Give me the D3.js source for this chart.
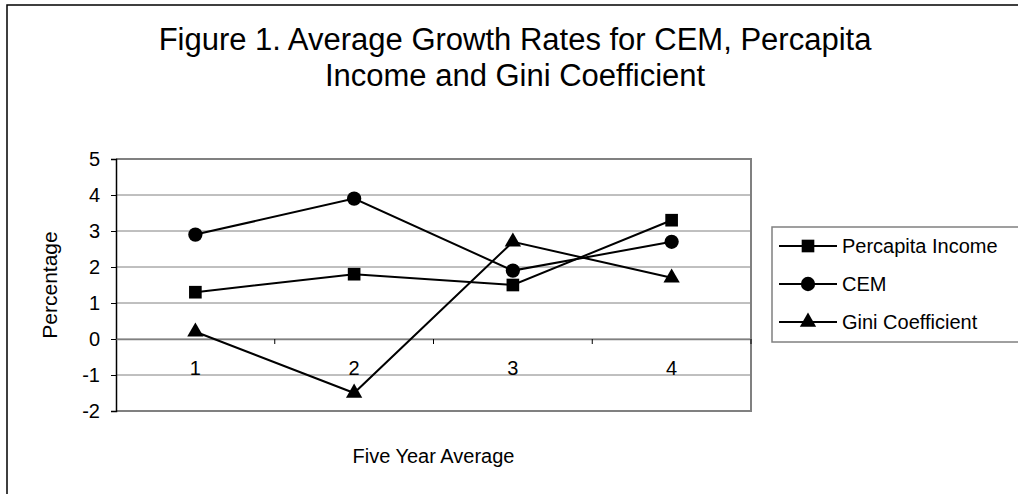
<!DOCTYPE html>
<html>
<head>
<meta charset="utf-8">
<script src="https://cdn.jsdelivr.net/npm/d3@7"></script>
<style>
  body { margin: 0; background: #fff; }
  svg text { font-family: "Liberation Sans", Arial, sans-serif; fill: #000; }
</style>
</head>
<body>
<div class="chart"></div>
<script>
// data
const periods = ["1", "2", "3", "4"];
const percapitaIncome = [1.3, 1.8, 1.5, 3.3];
const cem = [2.9, 3.9, 1.9, 2.7];
const giniCoefficient = [0.2, -1.5, 2.7, 1.7];
const yTicks = [-2, -1, 0, 1, 2, 3, 4, 5];
const titleLines = ["Figure 1. Average Growth Rates for CEM, Percapita", "Income and Gini Coefficient"];

const series = [
    { name: "Percapita Income", values: percapitaIncome, symbol: d3.symbolSquare },
    { name: "CEM", values: cem, symbol: d3.symbolCircle },
    { name: "Gini Coefficient", values: giniCoefficient, symbol: d3.symbolTriangle }
];

const width = 1018, height = 494;
const plot = { left: 116, right: 751, top: 159, bottom: 411 };

const svg = d3.select(".chart").append("svg")
    .attr("width", width)
    .attr("height", height);

// outer chart frame (right/bottom run off the picture)
svg.append("rect")
    .attr("x", 7).attr("y", 5)
    .attr("width", 1040).attr("height", 520)
    .attr("fill", "#fff")
    .attr("stroke", "#000")
    .attr("stroke-width", 1.5);

// title
svg.append("text")
    .attr("text-anchor", "middle")
    .style("font-size", "31px")
    .selectAll("tspan")
    .data(titleLines)
    .join("tspan")
    .attr("x", 515)
    .attr("y", (d, i) => 50 + i * 36)
    .text(d => d);

const x = d3.scaleBand().domain(periods).range([plot.left, plot.right]);
const y = d3.scaleLinear().domain([-2, 5]).range([plot.bottom, plot.top]);

// gridlines
svg.append("g")
    .selectAll("line")
    .data(yTicks)
    .join("line")
    .attr("x1", plot.left).attr("x2", plot.right)
    .attr("y1", d => y(d)).attr("y2", d => y(d))
    .attr("stroke", "#808080")
    .attr("stroke-width", 1);

// plot frame (top, right, bottom)
svg.append("path")
    .attr("d", `M${plot.left},${plot.top}H${plot.right}V${plot.bottom}H${plot.left}`)
    .attr("fill", "none")
    .attr("stroke", "#808080")
    .attr("stroke-width", 2);

// y axis
const yAxis = svg.append("g")
    .attr("transform", `translate(${plot.left},0)`)
    .call(d3.axisLeft(y).tickValues(yTicks).tickSize(5).tickPadding(11).tickFormat(d => String(d)));
yAxis.select(".domain").attr("stroke", "#000").attr("stroke-width", 1.5);
yAxis.selectAll(".tick line").attr("stroke", "#000");
yAxis.selectAll("text").style("font-size", "20px").attr("fill", "#000");

// category axis along zero
const xAxis = svg.append("g")
    .attr("transform", `translate(0,${y(0)})`)
    .call(d3.axisBottom(x).tickSize(0).tickPadding(22));
xAxis.select(".domain").attr("stroke", "#808080").attr("stroke-width", 1.5);
xAxis.selectAll("text").style("font-size", "20px").attr("fill", "#000");
// ticks at the band boundaries
xAxis.selectAll(".band-tick")
    .data(periods)
    .join("line")
    .attr("class", "band-tick")
    .attr("x1", d => x(d) + x.bandwidth())
    .attr("x2", d => x(d) + x.bandwidth())
    .attr("y1", 0).attr("y2", 5)
    .attr("stroke", "#000");

// axis titles
svg.append("text")
    .attr("transform", `translate(50,${(plot.top + plot.bottom) / 2}) rotate(-90)`)
    .attr("text-anchor", "middle")
    .attr("dy", "0.35em")
    .style("font-size", "21px")
    .text("Percentage");

svg.append("text")
    .attr("x", (plot.left + plot.right) / 2)
    .attr("y", 456)
    .attr("text-anchor", "middle")
    .attr("dy", "0.35em")
    .style("font-size", "20px")
    .text("Five Year Average");

// lines and markers
const line = d3.line()
    .x((d, i) => x(periods[i]) + x.bandwidth() / 2)
    .y(d => y(d));

const seriesG = svg.append("g")
    .selectAll("g")
    .data(series)
    .join("g");

seriesG.append("path")
    .attr("d", d => line(d.values))
    .attr("fill", "none")
    .attr("stroke", "#000")
    .attr("stroke-width", 2);

const symbolSize = s => s === d3.symbolTriangle ? 115 : 160;

seriesG.selectAll(".mark")
    .data(d => d.values.map((v, i) => ({ v, i, symbol: d.symbol })))
    .join("path")
    .attr("class", "mark")
    .attr("transform", d => `translate(${x(periods[d.i]) + x.bandwidth() / 2},${y(d.v)})`)
    .attr("d", d => d3.symbol(d.symbol, symbolSize(d.symbol))())
    .attr("fill", "#000");

// legend
const legend = svg.append("g");
legend.append("rect")
    .attr("x", 772).attr("y", 227)
    .attr("width", 300).attr("height", 115)
    .attr("fill", "#fff")
    .attr("stroke", "#808080")
    .attr("stroke-width", 1.5);

const item = legend.selectAll(".item")
    .data(series)
    .join("g")
    .attr("class", "item")
    .attr("transform", (d, i) => `translate(0,${246 + i * 38})`);
item.append("line")
    .attr("x1", 779).attr("x2", 837)
    .attr("stroke", "#000").attr("stroke-width", 2);
item.append("path")
    .attr("transform", "translate(808,0)")
    .attr("d", d => d3.symbol(d.symbol, symbolSize(d.symbol))())
    .attr("fill", "#000");
item.append("text")
    .attr("x", 842)
    .attr("dy", "0.35em")
    .style("font-size", "20px")
    .text(d => d.name);
</script>
</body>
</html>
